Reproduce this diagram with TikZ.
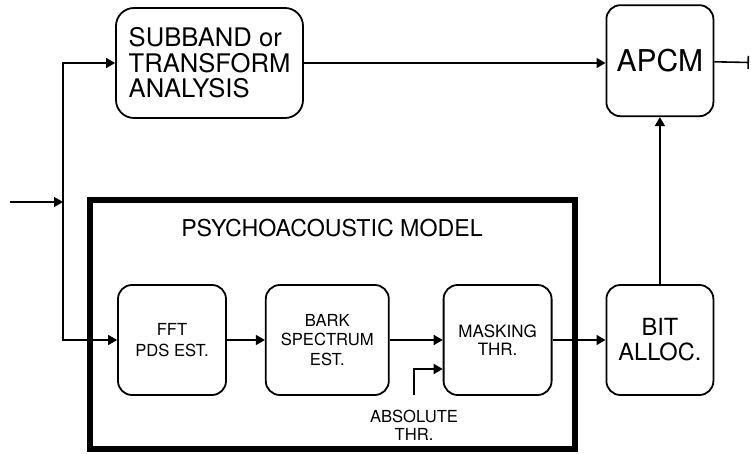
\documentclass[tikz,border=0pt]{standalone}
\usepackage{fontspec}
\setmainfont{TeX Gyre Heros}
\usetikzlibrary{positioning,arrows.meta}
\tikzset{block/.style={draw,rounded corners=7pt,line width=0.9pt,align=center,inner sep=0pt,minimum height=55pt},
         flow/.style={line width=0.8pt,-{Triangle[length=4.5pt,width=5pt]}},
            }

\begin{document}
\begin{tikzpicture}[x=0.5pt,y=-0.5pt]
    \useasboundingbox (0,0) rectangle (751,454);
    % psychoacoustic model frame
    \node[draw,line width=3pt,minimum width=242.5pt,minimum height=124.5pt] (psy) at (332.5,324.5) {};
    \node[font={\fontsize{11.6}{13}\selectfont}] (psyt) at (332,228) {PSYCHOACOUSTIC MODEL};

    \node[block,minimum width=93.5pt,rounded corners=9pt,align=left,font={\fontsize{12.8}{12.8}\selectfont}] (sub) at (209.5,63) {SUBBAND or\\TRANSFORM\\ANALYSIS};
    \node[block,minimum width=54pt,font={\fontsize{8.3}{10.5}\selectfont}] (fft) at (172,340) {FFT\\PDS EST.};
    \node[block,minimum width=61.5pt,font={\fontsize{8.3}{9.7}\selectfont}] (bark) [right = 19pt of fft] {BARK\\SPECTRUM\\EST.};
    \node[block,minimum width=54pt,font={\fontsize{8.5}{9.2}\selectfont}] (mask) [right = 26.5pt of bark] {MASKING\\THR.};
    \node[block,minimum width=53.5pt,font={\fontsize{11.8}{12.5}\selectfont}] (bit) [right = 26.5pt of mask] {BIT\\ALLOC.};
    \node[block,minimum width=53.5pt,minimum height=55.5pt,font={\fontsize{15}{16}\selectfont}] (apcm) [above = 83.5pt of bit] {APCM};
    \node[align=center,font={\fontsize{8.3}{9}\selectfont}] (abst) at (414,425) {ABSOLUTE\\THR.};

    \coordinate (in) at (10,202);
    \coordinate (split) at (63,202);
    \coordinate (absin) at (414,395);
    \coordinate (out) at (749,62.5);

    \draw[flow] (in) -- (split);
    \draw[flow] (split) |- (sub);
    \draw[flow] (split) |- (fft);
    \draw[flow] (sub.east) -- (sub.east -| apcm.west);
    \path[flow]
    (fft) edge (bark)
    (bark) edge (mask)
    (mask) edge (bit)
    (bit) edge (apcm);
    \draw[flow] (absin) |- ([yshift=-14.5pt]mask.west);
    \draw[line width=0.8pt,-{Bar[width=6.5pt]}] (apcm) -- (out);
\end{tikzpicture}
\end{document}
